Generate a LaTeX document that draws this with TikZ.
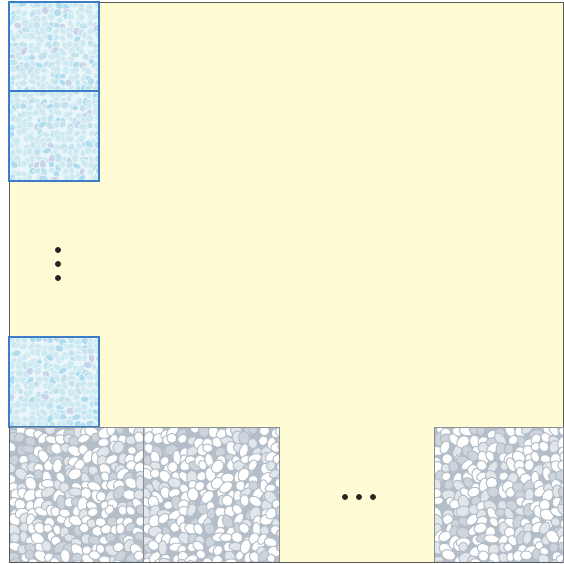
\documentclass[tikz,border=0pt]{standalone}
\usepackage{tikz}
\definecolor{panelyellow}{HTML}{FFFBD4}
\definecolor{frameblue}{HTML}{3B7DC6}
\definecolor{iceback}{HTML}{EAF6FA}
\definecolor{iceA}{HTML}{CDE9F1}
\definecolor{iceB}{HTML}{C2E3EE}
\definecolor{iceC}{HTML}{AEDDF0}
\definecolor{iceD}{HTML}{CAD3EC}
\definecolor{rockback}{HTML}{B3BEC8}
\definecolor{rockA}{HTML}{FFFFFF}
\definecolor{rockB}{HTML}{E1E6EB}
\definecolor{rockC}{HTML}{CDD4DB}
\definecolor{rockframe}{HTML}{8A9096}
\tikzset{
  outerbox/.style={draw=black!65,line width=0.9pt,fill=panelyellow},
  bluebox/.style={draw=frameblue,line width=2.2pt},
  graybox/.style={draw=rockframe,line width=0.9pt},
  dotmark/.style={fill=black!85},
}
% #1,#2 = top left, #3,#4 = bottom right, #5 = cell, #6 = colour prefix, #7 = grout
\newcommand{\pebbles}[7]{%
  \begin{scope}
    \clip (#1,#2) rectangle (#3,#4);
    \fill[#6back] (#1,#2) rectangle (#3,#4);
    \pgfmathtruncatemacro\nx{(#3-#1)/#5}
    \pgfmathtruncatemacro\ny{(#4-#2)/#5}
    \foreach \i in {0,...,\nx}{
      \foreach \j in {0,...,\ny}{
        \pgfmathsetmacro\px{#1+(\i+0.5+0.35*rand)*#5}
        \pgfmathsetmacro\py{#2+(\j+0.5+0.35*rand)*#5}
        \pgfmathsetmacro\ra{(0.66+0.16*rand)*#5}
        \pgfmathsetmacro\rb{(0.52+0.1*rand)*#5}
        \pgfmathsetmacro\ang{180*rnd}
        \pgfmathtruncatemacro\pick{random(1,20)}
        \ifnum\pick<13 \def\tone{#6A}\else\ifnum\pick<17 \def\tone{#6B}\else\ifnum\pick<20 \def\tone{#6C}\else\def\tone{#6D}\fi\fi\fi
        \filldraw[fill=\tone,draw=#6back,line width=#7,rotate around={\ang:(\px,\py)}]
          (\px,\py) ellipse [x radius=\ra pt,y radius=\rb pt];
      }
    }
  \end{scope}}

\begin{document}
\begin{tikzpicture}[x=1pt,y=-1pt]
  \useasboundingbox (0,0) rectangle (563,564);
  \pgfmathsetseed{4711}
  \colorlet{rockD}{rockC}
  % yellow panel
  \draw[outerbox] (9,2) rectangle (563,562.5);
  % ice column
  \pebbles{9}{2}{99}{91}{6.5}{ice}{0.7pt}
  \pebbles{9}{91}{99}{181}{6.5}{ice}{0.7pt}
  \pebbles{9}{337}{99}{427}{6.5}{ice}{0.7pt}
  \draw[bluebox] (9,2) rectangle (99,91);
  \draw[bluebox] (9,91) rectangle (99,181);
  \draw[bluebox] (9,337) rectangle (99,427);
  % rock row
  \pebbles{9}{427}{143}{562}{9}{rock}{1pt}
  \pebbles{143}{427}{279}{562}{9}{rock}{1pt}
  \pebbles{434}{427}{563}{562}{9}{rock}{1pt}
  \draw[graybox] (9,427) rectangle (143,562);
  \draw[graybox] (143,427) rectangle (279,562);
  \draw[graybox] (434,427) rectangle (563,562);
  \draw[outerbox,fill=none] (9,427) -- (9,562.5) -- (563,562.5);
  % dots
  \foreach \y in {250,264,278} \fill[dotmark] (58,\y) circle (3);
  \foreach \x in {345,359,373} \fill[dotmark] (\x,497) circle (3);
\end{tikzpicture}
\end{document}
